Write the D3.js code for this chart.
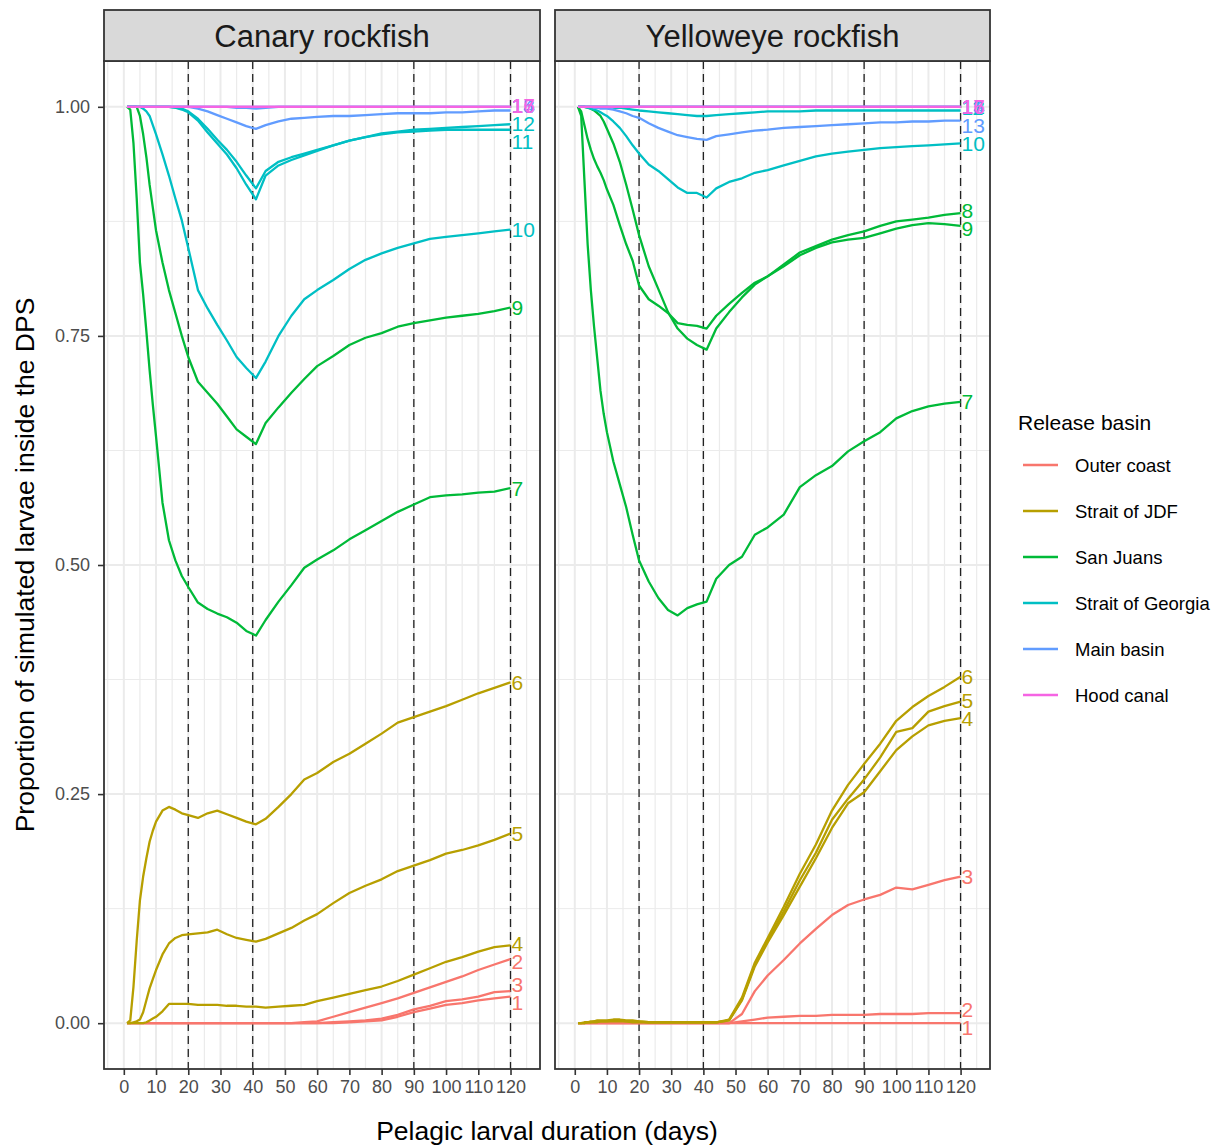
<!DOCTYPE html>
<html>
<head>
<meta charset="utf-8">
<script src="https://cdn.jsdelivr.net/npm/d3@7"></script>
<style>
  body { margin: 0; background: #fff; }
  text { font-family: "Liberation Sans", Arial, Helvetica, sans-serif; }
</style>
</head>
<body>
<script>
// chart size
var svgWidth = 1220;
var svgHeight = 1147;

// sampled days (pelagic larval duration)
var days = [1,2,3,4,5,6,7,8,9,10, 12,14,16,18,20, 23,26,29,32,35,38,41,44,48,
  52,56,60,65,70,75,80,85,90,95,100,105,110,115,120];

var basins = ["Outer coast", "Strait of JDF", "San Juans", "Strait of Georgia", "Main basin", "Hood canal"];
var basinColors = ["#F8766D", "#B79F00", "#00BA38", "#00BFC4", "#619CFF", "#F564E3"];
// basin of each release site 1..17
var siteBasin = [0,0,0, 1,1,1, 2,2,2, 3,3,3, 4,4,4, 5,5];

var dashedDays = [20, 40, 90, 120];
var xTicks = [0,10,20,30,40,50,60,70,80,90,100,110,120];
var yTicks = [0, 0.25, 0.5, 0.75, 1];

// Canary rockfish
var canarySites = [1,2,3,4,5,6,7,9,10,11,12,13,14,15,16,17];
var canaryValues = [
  [0,0,0,0,0,0,0,0,0,0, 0,0,0,0,0, 0,0,0,0,0,0,0,0,0, 0,0,0,0,0.001,0.002,0.003,0.007,0.012,0.016,0.020,0.022,0.025,0.027,0.029],
  [0,0,0,0,0,0,0,0,0,0, 0,0,0,0,0, 0,0,0,0,0,0,0,0,0, 0,0.001,0.002,0.007,0.012,0.017,0.022,0.027,0.033,0.039,0.045,0.051,0.058,0.064,0.070],
  [0,0,0,0,0,0,0,0,0,0, 0,0,0,0,0, 0,0,0,0,0,0,0,0,0, 0,0,0,0.001,0.002,0.003,0.005,0.009,0.015,0.019,0.024,0.026,0.029,0.034,0.035],
  [0,0,0,0,0,0,0.001,0.003,0.005,0.007, 0.013,0.021,0.021,0.021,0.021, 0.020,0.020,0.020,0.019,0.019,0.018,0.018,0.017,0.018,
   0.019,0.020,0.024,0.028,0.032,0.036,0.040,0.046,0.053,0.060,0.067,0.072,0.078,0.083,0.085],
  [0,0,0.001,0.002,0.004,0.012,0.025,0.038,0.048,0.058, 0.075,0.087,0.093,0.096,0.097, 0.098,0.099,0.102,0.097,0.093,0.091,0.089,0.092,0.098,
   0.104,0.112,0.119,0.131,0.142,0.150,0.157,0.166,0.172,0.178,0.185,0.189,0.194,0.200,0.207],
  [0,0.003,0.04,0.09,0.134,0.16,0.18,0.198,0.21,0.22, 0.232,0.236,0.233,0.229,0.227, 0.224,0.229,0.232,0.228,0.224,0.220,0.217,0.223,0.236,
   0.250,0.266,0.273,0.285,0.294,0.305,0.316,0.328,0.334,0.340,0.346,0.353,0.360,0.366,0.372],
  [1,0.997,0.96,0.9,0.83,0.795,0.755,0.713,0.675,0.64, 0.568,0.527,0.505,0.488,0.476, 0.459,0.452,0.447,0.443,0.437,0.428,0.423,0.440,0.460,
   0.478,0.497,0.506,0.516,0.528,0.538,0.548,0.558,0.566,0.574,0.576,0.577,0.579,0.580,0.584],
  [1,1,1,1,0.99,0.97,0.945,0.915,0.89,0.865, 0.83,0.80,0.775,0.75,0.727, 0.700,0.688,0.676,0.662,0.648,0.640,0.632,0.655,0.672,
   0.688,0.703,0.717,0.728,0.740,0.748,0.753,0.760,0.764,0.767,0.770,0.772,0.774,0.777,0.781],
  [1,1,1,1,1,0.998,0.995,0.99,0.98,0.97, 0.948,0.925,0.9,0.876,0.846, 0.80,0.780,0.762,0.745,0.727,0.715,0.704,0.722,0.750,
   0.772,0.790,0.800,0.811,0.823,0.833,0.840,0.846,0.851,0.856,0.858,0.860,0.862,0.864,0.866],
  [1,1,1,1,1,1,1,1,1,1, 1,1,0.999,0.997,0.994, 0.985,0.972,0.960,0.948,0.933,0.915,0.899,0.925,0.936,
   0.942,0.947,0.952,0.958,0.963,0.967,0.970,0.972,0.973,0.974,0.975,0.975,0.975,0.975,0.975],
  [1,1,1,1,1,1,1,1,1,1, 1,1,0.999,0.998,0.995, 0.987,0.976,0.964,0.953,0.940,0.925,0.911,0.930,0.940,
   0.945,0.949,0.953,0.958,0.963,0.967,0.971,0.973,0.975,0.976,0.977,0.978,0.979,0.980,0.981],
  [1,1,1,1,1,1,1,1,1,1, 1,1,1,1,1, 0.998,0.995,0.991,0.987,0.983,0.979,0.976,0.980,0.984,
   0.987,0.988,0.989,0.990,0.990,0.991,0.992,0.993,0.993,0.993,0.994,0.994,0.995,0.996,0.996],
  [1,1,1,1,1,1,1,1,1,1, 1,1,1,1,1, 1,1,1,1,0.999,0.999,0.998,0.999,1, 1,1,1,1,1,1,1,1,1,1,1,1,1,1,1],
  [1,1,1,1,1,1,1,1,1,1, 1,1,1,1,1, 1,1,1,1,1,1,1,1,1, 1,1,1,1,1,1,1,1,1,1,1,1,1,1,1],
  [1,1,1,1,1,1,1,1,1,1, 1,1,1,1,1, 1,1,1,1,1,1,1,1,1, 1,1,1,1,1,1,1,1,1,1,1,1,1,1,1],
  [1,1,1,1,1,1,1,1,1,1, 1,1,1,1,1, 1,1,1,1,1,1,1,1,1, 1,1,1,1,1,1,1,1,1,1,1,1,1,1,1]
];

// Yelloweye rockfish
var yelloweyeSites = [1,2,3,4,5,6,7,8,9,10,11,12,13,14,15,16,17];
var yelloweyeValues = [
  [0,0,0,0,0,0,0,0,0,0, 0,0,0,0,0, 0,0,0,0,0,0,0,0,0, 0,0,0,0,0,0,0,0,0,0,0,0,0,0,0],
  [0,0,0,0,0,0,0,0,0,0, 0,0,0,0,0, 0,0,0,0,0,0,0,0,0, 0.002,0.004,0.006,0.007,0.008,0.008,0.009,0.009,0.009,0.010,0.010,0.010,0.011,0.011,0.011],
  [0,0,0,0,0,0,0,0,0,0, 0,0,0,0,0, 0,0,0,0,0,0,0,0,0, 0.010,0.035,0.052,0.069,0.087,0.103,0.118,0.129,0.135,0.140,0.148,0.146,0.151,0.156,0.160],
  [0,0,0.001,0.001,0.002,0.002,0.003,0.003,0.003,0.003, 0.004,0.004,0.003,0.003,0.002, 0.001,0.001,0.001,0.001,0.001,0.001,0.001,0.001,0.003,
   0.025,0.062,0.088,0.118,0.149,0.180,0.213,0.240,0.252,0.275,0.298,0.313,0.325,0.330,0.333],
  [0,0,0,0.001,0.001,0.002,0.002,0.002,0.002,0.002, 0.003,0.003,0.002,0.002,0.002, 0.001,0.001,0.001,0.001,0.001,0.001,0.001,0.001,0.003,
   0.026,0.064,0.090,0.122,0.156,0.186,0.222,0.245,0.266,0.290,0.318,0.322,0.340,0.346,0.351],
  [0,0,0,0.001,0.001,0.001,0.001,0.002,0.002,0.002, 0.002,0.002,0.002,0.001,0.001, 0.001,0.001,0.001,0.001,0.001,0.001,0.001,0.001,0.004,
   0.028,0.066,0.093,0.127,0.163,0.195,0.232,0.260,0.283,0.305,0.330,0.345,0.357,0.367,0.378],
  [1,0.99,0.92,0.85,0.80,0.76,0.725,0.69,0.665,0.645, 0.613,0.588,0.563,0.533,0.505, 0.482,0.464,0.451,0.445,0.453,0.457,0.460,0.485,0.500,
   0.509,0.533,0.541,0.555,0.585,0.598,0.608,0.624,0.635,0.645,0.660,0.668,0.673,0.676,0.678],
  [1,1,1,0.999,0.998,0.996,0.993,0.99,0.984,0.976, 0.96,0.94,0.915,0.888,0.86, 0.826,0.801,0.776,0.758,0.747,0.740,0.735,0.758,0.776,
   0.792,0.806,0.815,0.828,0.841,0.848,0.855,0.860,0.864,0.870,0.875,0.877,0.879,0.882,0.884],
  [1,0.995,0.98,0.965,0.953,0.943,0.935,0.928,0.92,0.91, 0.893,0.871,0.85,0.832,0.805, 0.79,0.783,0.775,0.764,0.762,0.761,0.758,0.772,0.785,
   0.797,0.808,0.815,0.826,0.838,0.846,0.852,0.855,0.857,0.862,0.867,0.871,0.873,0.872,0.870],
  [1,1,1,0.999,0.998,0.997,0.996,0.994,0.992,0.99, 0.984,0.977,0.968,0.958,0.949, 0.937,0.93,0.921,0.912,0.906,0.906,0.901,0.911,0.918,
   0.922,0.928,0.931,0.936,0.941,0.946,0.949,0.951,0.953,0.955,0.956,0.957,0.958,0.959,0.960],
  [1,1,1,1,1,1,1,1,1,1, 0.999,0.999,0.998,0.997,0.996, 0.995,0.994,0.993,0.992,0.991,0.990,0.990,0.991,0.992,
   0.993,0.994,0.995,0.995,0.995,0.996,0.996,0.996,0.996,0.996,0.996,0.996,0.996,0.996,0.996],
  [1,1,1,1,1,1,1,1,1,1, 1,1,1,1,1, 1,1,1,1,1,1,1,1,1, 1,1,1,1,1,1,1,1,1,1,1,1,1,1,1],
  [1,1,1,1,1,0.999,0.999,0.998,0.998,0.998, 0.997,0.995,0.993,0.990,0.988, 0.982,0.977,0.973,0.969,0.967,0.965,0.964,0.968,0.970,
   0.972,0.974,0.975,0.977,0.978,0.979,0.980,0.981,0.982,0.983,0.983,0.984,0.984,0.985,0.985],
  [1,1,1,1,1,1,1,1,1,1, 1,1,1,1,1, 1,1,1,1,1,1,1,1,1, 1,1,1,1,1,1,1,1,1,1,1,1,1,1,1],
  [1,1,1,1,1,1,1,1,1,1, 1,1,1,1,1, 1,1,1,1,1,1,1,1,1, 1,1,1,1,1,1,1,1,1,1,1,1,1,1,1],
  [1,1,1,1,1,1,1,1,1,1, 1,1,1,1,1, 1,1,1,1,1,1,1,1,1, 1,1,1,1,1,1,1,1,1,1,1,1,1,1,1],
  [1,1,1,1,1,1,1,1,1,1, 1,1,1,1,1, 1,1,1,1,1,1,1,1,1, 1,1,1,1,1,1,1,1,1,1,1,1,1,1,1]
];

var panels = [
  {title: "Canary rockfish", sites: canarySites, values: canaryValues, left: 104, right: 540},
  {title: "Yelloweye rockfish", sites: yelloweyeSites, values: yelloweyeValues, left: 555, right: 990}
];

var panelTop = 61, panelBottom = 1069, stripTop = 10;

var svg = d3.select("body")
  .append("svg")
  .attr("width", svgWidth)
  .attr("height", svgHeight);

// y scale shared by both panels (ggplot 5% expansion)
var yScale = d3.scaleLinear()
  .domain([-0.05, 1.05])
  .range([panelBottom, panelTop]);

var line = d3.line()
  .x(d => d.x)
  .y(d => d.y);

// nudge end labels apart vertically (rough ggrepel);
// labels whose lines end within a few px stay stacked, like the original
function spreadLabels(items, gap) {
  for (var it = 0; it < 150; it++) {
    for (var i = 0; i < items.length; i++) {
      for (var j = i + 1; j < items.length; j++) {
        var a = items[i], b = items[j];
        if (Math.abs(a.y0 - b.y0) < 4) continue;
        var d = b.y - a.y;
        if (Math.abs(d) < gap) {
          var s = (gap - Math.abs(d)) * 0.15;
          var dir = d >= 0 ? 1 : -1;
          a.y -= dir * s;
          b.y += dir * s;
        }
      }
    }
  }
}

panels.forEach(function (p, pi) {
  var xScale = d3.scaleLinear()
    .domain([-6.15, 129.15])
    .range([p.left, p.right]);

  var g = svg.append("g");

  // grid
  var minorY = [0.125, 0.375, 0.625, 0.875];
  var minorX = d3.range(-5, 130, 10);
  g.selectAll(".gyMinor").data(minorY).enter().append("line")
    .attr("x1", p.left).attr("x2", p.right)
    .attr("y1", d => yScale(d)).attr("y2", d => yScale(d))
    .attr("stroke", "#EBEBEB").attr("stroke-width", 1);
  g.selectAll(".gxMinor").data(minorX).enter().append("line")
    .attr("x1", d => xScale(d)).attr("x2", d => xScale(d))
    .attr("y1", panelTop).attr("y2", panelBottom)
    .attr("stroke", "#EBEBEB").attr("stroke-width", 1.2);
  g.selectAll(".gy").data(yTicks).enter().append("line")
    .attr("x1", p.left).attr("x2", p.right)
    .attr("y1", d => yScale(d)).attr("y2", d => yScale(d))
    .attr("stroke", "#EBEBEB").attr("stroke-width", 2);
  g.selectAll(".gx").data(xTicks).enter().append("line")
    .attr("x1", d => xScale(d)).attr("x2", d => xScale(d))
    .attr("y1", panelTop).attr("y2", panelBottom)
    .attr("stroke", "#EBEBEB").attr("stroke-width", 2);

  // dashed reference lines
  g.selectAll(".vref").data(dashedDays).enter().append("line")
    .attr("x1", d => xScale(d)).attr("x2", d => xScale(d))
    .attr("y1", panelTop).attr("y2", panelBottom)
    .attr("stroke", "#222").attr("stroke-width", 1.3)
    .attr("stroke-dasharray", "8,5");

  // series
  var series = p.sites.map(function (site, i) {
    return {
      site: site,
      color: basinColors[siteBasin[site - 1]],
      points: days.map((day, k) => ({x: xScale(day), y: yScale(p.values[i][k])})),
      last: p.values[i][days.length - 1]
    };
  });

  g.selectAll(".series").data(series).enter().append("path")
    .attr("d", d => line(d.points))
    .attr("fill", "none")
    .attr("stroke", d => d.color)
    .attr("stroke-width", 2.3)
    .attr("stroke-linejoin", "round");

  // end labels
  var labels = series.map(d => ({text: d.site, color: d.color, y0: yScale(d.last), y: yScale(d.last)}));
  spreadLabels(labels, 18);
  g.selectAll(".lab").data(labels).enter().append("text")
    .attr("x", xScale(120) + 1)
    .attr("y", d => d.y)
    .attr("dy", "0.36em")
    .style("font-size", "21px")
    .style("fill", d => d.color)
    .text(d => d.text);

  // panel border
  g.append("rect")
    .attr("x", p.left).attr("y", panelTop)
    .attr("width", p.right - p.left).attr("height", panelBottom - panelTop)
    .attr("fill", "none").attr("stroke", "#333").attr("stroke-width", 1.8);

  // strip
  g.append("rect")
    .attr("x", p.left).attr("y", stripTop)
    .attr("width", p.right - p.left).attr("height", panelTop - stripTop)
    .attr("fill", "#D9D9D9").attr("stroke", "#333").attr("stroke-width", 1.8);
  g.append("text")
    .attr("x", (p.left + p.right) / 2).attr("y", 47)
    .style("text-anchor", "middle")
    .style("font-size", "31px")
    .style("fill", "#1A1A1A")
    .text(p.title);

  // x axis
  var bottomAxis = d3.axisBottom(xScale).tickValues(xTicks).tickSize(6).tickPadding(5);
  var ax = g.append("g")
    .attr("transform", `translate(0, ${panelBottom})`)
    .call(bottomAxis);
  ax.select(".domain").remove();
  ax.selectAll("line").attr("stroke", "#333").attr("stroke-width", 1.6);
  ax.selectAll("text").style("font-size", "18px").style("fill", "#4D4D4D")
    .style("font-family", "'Liberation Sans', Arial, sans-serif");

  // y axis only on first panel
  if (pi === 0) {
    var leftAxis = d3.axisLeft(yScale).tickValues(yTicks).tickFormat(d3.format(".2f")).tickSize(6).tickPadding(8);
    var ay = g.append("g")
      .attr("transform", `translate(${p.left}, 0)`)
      .call(leftAxis);
    ay.select(".domain").remove();
    ay.selectAll("line").attr("stroke", "#333").attr("stroke-width", 1.6);
    ay.selectAll("text").style("font-size", "18px").style("fill", "#4D4D4D")
      .style("font-family", "'Liberation Sans', Arial, sans-serif");
  }
});

// axis titles
svg.append("text")
  .attr("transform", "translate(34, 565) rotate(-90)")
  .style("text-anchor", "middle")
  .style("font-size", "26.5px")
  .text("Proportion of simulated larvae inside the DPS");

svg.append("text")
  .attr("x", 547).attr("y", 1140)
  .style("text-anchor", "middle")
  .style("font-size", "26.5px")
  .text("Pelagic larval duration (days)");

// legend
var legend = svg.append("g").attr("transform", "translate(1018, 0)");
legend.append("text")
  .attr("x", 0).attr("y", 430)
  .style("font-size", "21px")
  .text("Release basin");

var items = legend.selectAll(".item").data(basins).enter().append("g")
  .attr("transform", (d, i) => `translate(0, ${465 + i * 46})`);
items.append("line")
  .attr("x1", 5).attr("x2", 40)
  .attr("stroke", (d, i) => basinColors[i])
  .attr("stroke-width", 2.6);
items.append("text")
  .attr("x", 57).attr("dy", "0.36em")
  .style("font-size", "18.5px")
  .text(d => d);
</script>
</body>
</html>
